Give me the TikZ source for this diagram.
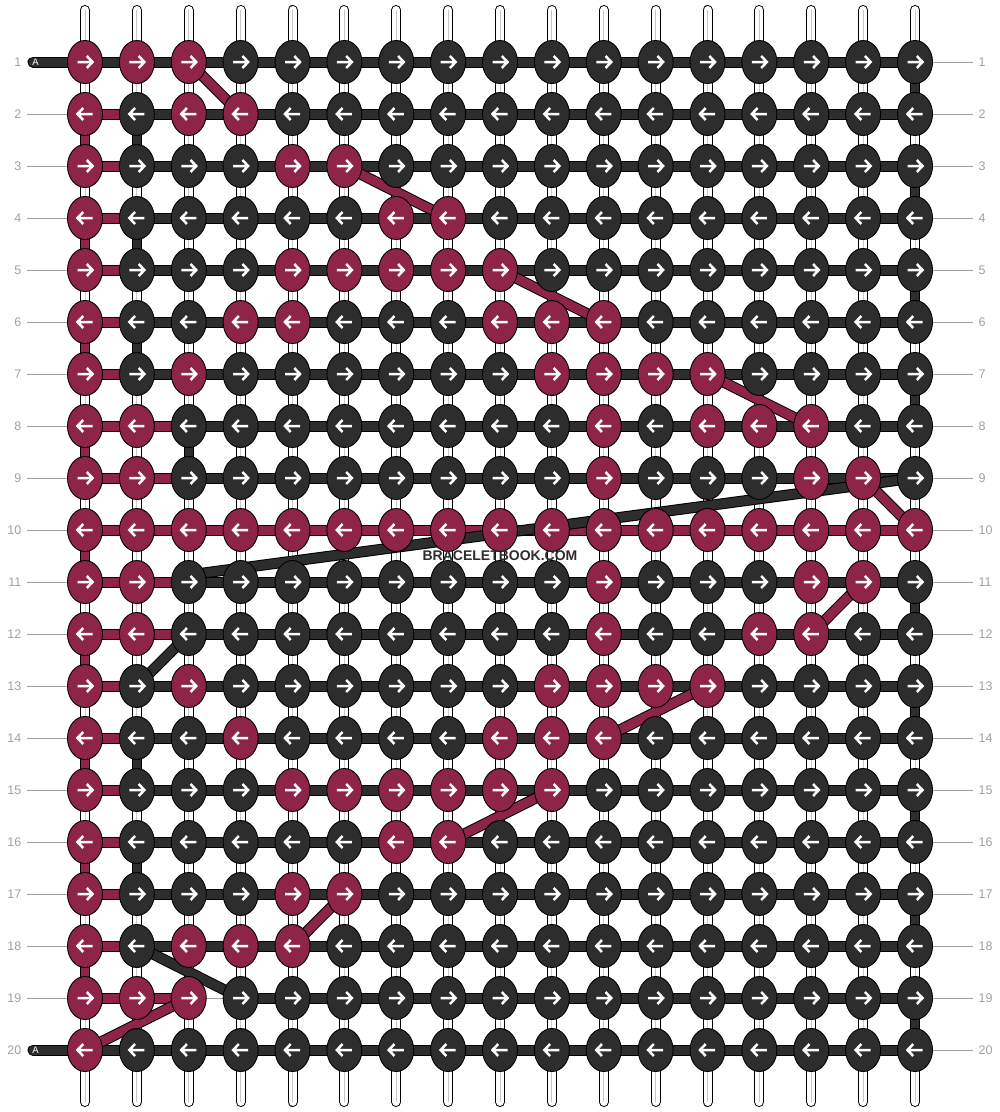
\documentclass[tikz,border=0pt]{standalone}
\usepackage{fontspec}
\setmainfont{Liberation Sans}
\usetikzlibrary{shapes.geometric}
\definecolor{mar}{HTML}{8E2448}
\definecolor{drk}{HTML}{2D2D2D}
\definecolor{lbl}{HTML}{A0A0A0}
\definecolor{strc}{HTML}{C8C8C8}
\pgfdeclarelayer{strings}
\pgfdeclarelayer{bars}
\pgfdeclarelayer{diag}
\pgfdeclarelayer{front}
\pgfsetlayers{strings,bars,diag,main,front}
\newcommand\arR[1]{\draw[arrw,shift={(#1.center)}] (-7.5,0)--(7.5,0) (1.8,-6)--(7.5,0)--(1.8,6);}
\newcommand\arL[1]{\draw[arrw,shift={(#1.center)}] (7.5,0)--(-7.5,0) (-1.8,-6)--(-7.5,0)--(-1.8,6);}
\begin{document}
\begin{tikzpicture}[x=1pt,y=-1pt,
 knot/.style={ellipse,draw=black,line width=0.9pt,minimum width=35pt,minimum height=43pt,inner sep=0pt},
 arrw/.style={white,line width=2.5pt},
 numl/.style={text=lbl,font=\fontsize{12.5}{14}\selectfont,inner sep=0pt},
 tick/.style={lbl,line width=0.8pt},
 barout/.style={black,line width=11pt},
 barin/.style={line width=9pt},
 conout/.style={black,line width=10.5pt},
 conin/.style={line width=8.5pt}]
\useasboundingbox (0,0) rectangle (1000,1112);
% maroon knots
\foreach \rr/\cl in {1/{1,2,3},2/{1,3,4},3/{1,5,6},4/{1,7,8},5/{1,5,6,7,8,9},6/{1,4,5,9,10,11},7/{1,3,10,11,12,13},8/{1,2,11,13,14,15},9/{1,2,11,15,16},10/{1,2,3,4,5,6,7,8,9,10,11,12,13,14,15,16,17},11/{1,2,11,15,16},12/{1,2,11,14,15},13/{1,3,10,11,12,13},14/{1,4,9,10,11},15/{1,5,6,7,8,9,10},16/{1,7,8},17/{1,5,6},18/{1,3,4,5},19/{1,2,3},20/{1}}{
  \foreach \cc in \cl {\expandafter\gdef\csname isM-\rr-\cc\endcsname{}}}
% maroon bar segments
\foreach \rr in {2,3,4,5,6,7,13,14,15,16,17,18}{\expandafter\gdef\csname isMs-\rr-1\endcsname{}}
\foreach \rr in {8,9,11,12,19}{\expandafter\gdef\csname isMs-\rr-1\endcsname{}\expandafter\gdef\csname isMs-\rr-2\endcsname{}}
\foreach \cc in {1,...,16}{\expandafter\gdef\csname isMs-10-\cc\endcsname{}}
\expandafter\gdef\csname noS-19-3\endcsname{}
% knots
\foreach \rr in {1,...,20}{\foreach \cc in {1,...,17}{
  \ifcsname isM-\rr-\cc\endcsname \def\fc{mar}\else\def\fc{drk}\fi
  \node[knot,fill=\fc] (n-\rr-\cc) at ({85+(\cc-1)*51.875},{62+(\rr-1)*52}) {};
  \ifodd\rr\relax \arR{n-\rr-\cc}\else \arL{n-\rr-\cc}\fi
}}
% strings
\begin{pgfonlayer}{strings}
\foreach \cc in {1,...,17}{
  \coordinate (st-\cc) at (n-1-\cc |- 0,10);
  \coordinate (sb-\cc) at (n-1-\cc |- 0,1102);
  \draw[black,line width=10pt,line cap=round] (st-\cc) -- (sb-\cc);
  \draw[white,line width=8pt,line cap=round] (st-\cc) -- (sb-\cc);
  \draw[strc,line width=1pt] (st-\cc) -- (sb-\cc);
}
\end{pgfonlayer}
% bars
\begin{pgfonlayer}{bars}
\foreach \rr in {1,...,20}{\foreach \cc [evaluate=\cc as \nx using int(\cc+1)] in {1,...,16}{
  \ifcsname noS-\rr-\cc\endcsname
    \draw[tick] (n-\rr-\cc.center) -- (n-\rr-\nx.center);
  \else
    \ifcsname isMs-\rr-\cc\endcsname \def\bc{mar}\else\def\bc{drk}\fi
    \draw[barout] (n-\rr-\cc.center) -- (n-\rr-\nx.center);
    \draw[barin,\bc] (n-\rr-\cc.center) -- (n-\rr-\nx.center);
  \fi
}}
% turn-around connectors
\foreach \rr [evaluate=\rr as \rn using int(\rr+1)] in {2,4,...,18}{
  \draw[conout] (n-\rr-1.center) -- (n-\rn-1.center);
  \draw[conin,mar] (n-\rr-1.center) -- (n-\rn-1.center);}
\foreach \rr/\cc [evaluate=\rr as \rn using int(\rr+1)] in {1/17,3/17,5/17,7/17,11/17,13/17,15/17,17/17,19/17,2/2,4/2,6/2,14/2,16/2,8/3}{
  \draw[conout] (n-\rr-\cc.center) -- (n-\rn-\cc.center);
  \draw[conin,drk] (n-\rr-\cc.center) -- (n-\rn-\cc.center);}
% start bars with A
\coordinate (aL1) at (33,62);
\coordinate (aL20) at (33,1050);
\draw[barout,line cap=round] (aL1) -- (n-1-1.center);
\draw[barin,drk,line cap=round] (aL1) -- (n-1-1.center);
\draw[barout,line cap=round] (aL20) -- (n-20-1.center);
\draw[barin,drk,line cap=round] (aL20) -- (n-20-1.center);
\end{pgfonlayer}
% diagonals
\begin{pgfonlayer}{diag}
\foreach \a/\b/\c/\d in {1/3/2/4,3/6/4/8,5/9/6/11,7/13/8/15,9/16/10/17,11/16/12/15,13/13/14/11,15/10/16/8,17/6/18/5,19/3/20/1}{
  \draw[barout] (n-\a-\b.center) -- (n-\c-\d.center);
  \draw[barin,mar] (n-\a-\b.center) -- (n-\c-\d.center);}
\foreach \a/\b/\c/\d in {12/3/13/2,18/2/19/4}{
  \draw[barout] (n-\a-\b.center) -- (n-\c-\d.center);
  \draw[barin,drk] (n-\a-\b.center) -- (n-\c-\d.center);}
\draw[barout] (n-9-17.center) -- ([yshift=7pt]n-11-3.center);
\draw[barin,drk] (n-9-17.center) -- ([yshift=7pt]n-11-3.center);
\end{pgfonlayer}
% labels
\begin{pgfonlayer}{front}
\node[text=white,font=\fontsize{9.5}{10}\selectfont,inner sep=0pt] (A1) at (35.5,62.5) {A};
\node[text=white,font=\fontsize{9.5}{10}\selectfont,inner sep=0pt] (A20) at (35.5,1050.5) {A};
\foreach \rr in {1,...,20}{
  \node[numl,anchor=east] (ln-\rr) at (21.5,{62+(\rr-1)*52}) {\rr};
  \node[numl,anchor=west] (rn-\rr) at (978.5,{62+(\rr-1)*52}) {\rr};
  \coordinate (re-\rr) at (973,{62+(\rr-1)*52});
  \draw[tick] (n-\rr-17.east) -- (re-\rr);
}
\foreach \rr in {2,...,19}{
  \coordinate (le-\rr) at (27,{62+(\rr-1)*52});
  \draw[tick] (le-\rr) -- (n-\rr-1.west);
}
\node[text=drk,font=\bfseries\fontsize{14}{16}\selectfont,inner sep=0pt] (wm) at (500,555.5) {BRACELETBOOK.COM};
\end{pgfonlayer}
\end{tikzpicture}
\end{document}
